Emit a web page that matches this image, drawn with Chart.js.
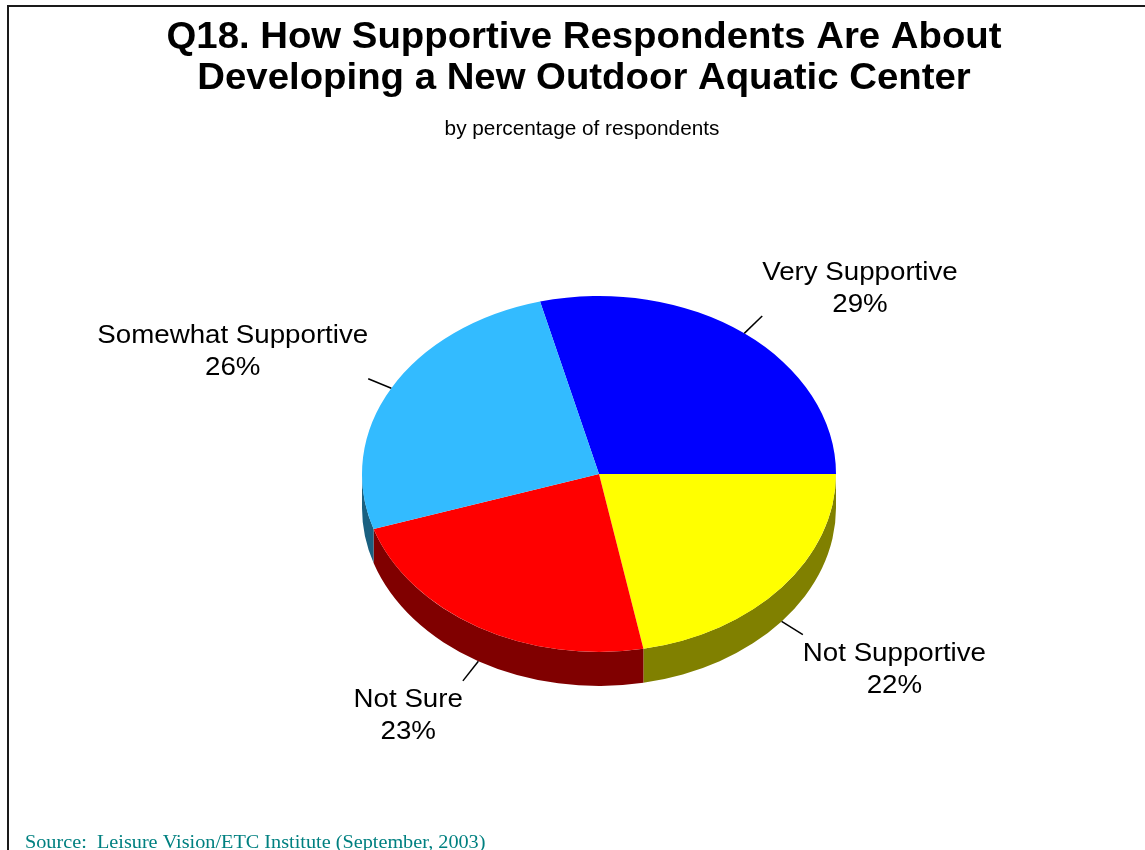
<!DOCTYPE html>
<html>
<head>
<meta charset="utf-8">
<script src="https://cdn.jsdelivr.net/npm/chart.js@4.4.1/dist/chart.umd.min.js"></script>
<style>
  html, body { margin: 0; padding: 0; background: #fff; overflow: hidden; }
  canvas { display: block; }
</style>
</head>
<body>
<canvas id="pieChart" width="1145" height="850"></canvas>
<script>
// data, clockwise from the top-left cut
const categories = ['Very Supportive', 'Not Supportive', 'Not Sure', 'Somewhat Supportive'];
const percentages = [29, 22, 23, 26];

const topColors = ['#0000ff', '#ffff00', '#ff0000', '#33bbff'];
const sideColors = ['#000080', '#808000', '#800000', '#1a6080'];

const titleLines = ['Q18. How Supportive Respondents Are About', 'Developing a New Outdoor Aquatic Center'];
const subtitleText = 'by percentage of respondents';
const sourceText = 'Source:  Leisure Vision/ETC Institute (September, 2003)';

const tilt = 0.751;     // vertical squash of the pie
const depth = 34;       // thickness of the pie in px
const stretch = 1.065;  // the original text is a little wide
const sansFont = '"Liberation Sans", Arial, sans-serif';

function wideText(ctx, text, x, y) {
    ctx.save();
    ctx.translate(x, y);
    ctx.scale(stretch, 1);
    ctx.fillText(text, 0, 0);
    ctx.restore();
}

// squash the pie and draw the front walls under it
let squashed = false;
const pie3d = {
    id: 'pie3d',
    beforeDatasetsDraw(chart) {
        const arcs = chart.getDatasetMeta(0).data;
        if (!arcs.length) return;
        const ctx = chart.ctx;
        const cx = arcs[0].x, cy = arcs[0].y;
        ctx.save();
        squashed = true;
        ctx.translate(cx, cy);
        ctx.scale(1, tilt);
        ctx.translate(-cx, -cy);
        const d = depth / tilt;
        arcs.forEach((arc, i) => {
            const R = arc.outerRadius;
            for (let n = -1; n <= 1; n++) {
                const lo = Math.max(arc.startAngle, n * 2 * Math.PI);
                const hi = Math.min(arc.endAngle, n * 2 * Math.PI + Math.PI);
                if (hi <= lo) continue;
                ctx.beginPath();
                ctx.arc(cx, cy, R, lo, hi);
                ctx.arc(cx, cy + d, R, hi, lo, true);
                ctx.closePath();
                ctx.fillStyle = sideColors[i];
                ctx.fill();
            }
        });
    },
    afterDatasetsDraw(chart) {
        if (squashed) {
            chart.ctx.restore();
            squashed = false;
        }
    }
};

// frame, titles, slice labels with leader lines, source note
const annotations = {
    id: 'annotations',
    afterDraw(chart) {
        const ctx = chart.ctx;
        ctx.save();

        ctx.strokeStyle = '#1a1a1a';
        ctx.lineWidth = 2;
        ctx.strokeRect(8, 6, 2000, 2000);

        ctx.fillStyle = '#000';
        ctx.textAlign = 'center';
        ctx.textBaseline = 'alphabetic';
        ctx.font = 'bold 36px ' + sansFont;
        wideText(ctx, titleLines[0], 584, 48);
        wideText(ctx, titleLines[1], 584, 89);

        ctx.font = '19.5px ' + sansFont;
        wideText(ctx, subtitleText, 582, 135);

        const arcs = chart.getDatasetMeta(0).data;
        ctx.font = '26px ' + sansFont;
        arcs.forEach((arc, i) => {
            const a = (arc.startAngle + arc.endAngle) / 2;
            const R = arc.outerRadius;
            const cos = Math.cos(a), sin = Math.sin(a);
            const sx = arc.x + R * cos;
            const sy = arc.y + R * tilt * sin + (sin > 0 ? depth : 0);
            const len = Math.hypot(cos, tilt * sin);
            const ex = sx + 25 * cos / len;
            const ey = sy + 25 * tilt * sin / len;

            ctx.strokeStyle = '#000';
            ctx.lineWidth = 1.5;
            ctx.beginPath();
            ctx.moveTo(sx, sy);
            ctx.lineTo(ex, ey);
            ctx.stroke();

            const lines = [categories[i], percentages[i] + '%'];
            const w = Math.max(...lines.map(t => ctx.measureText(t).width)) * stretch;
            const bx = cos > 0 ? ex + w / 2 : ex - w / 2;
            const base1 = sin < 0 ? ey - 36 : ey + 26.5;
            wideText(ctx, lines[0], bx, base1);
            wideText(ctx, lines[1], bx, base1 + 32);
        });

        ctx.fillStyle = '#008080';
        ctx.textAlign = 'left';
        ctx.font = '19px "Liberation Serif", "Times New Roman", serif';
        wideText(ctx, sourceText, 25, 848);

        ctx.restore();
    }
};

new Chart(document.getElementById('pieChart'), {
    type: 'pie',
    data: {
        labels: categories,
        datasets: [{
            data: percentages,
            backgroundColor: topColors,
            borderWidth: 0,
            hoverOffset: 0
        }]
    },
    options: {
        responsive: false,
        devicePixelRatio: 1,
        animation: false,
        events: [],
        rotation: -14.4,
        layout: {
            padding: { left: 362, right: 309, top: 237, bottom: 139 }
        },
        plugins: {
            legend: { display: false },
            tooltip: { enabled: false },
            title: { display: false }
        }
    },
    plugins: [pie3d, annotations]
});
</script>
</body>
</html>
